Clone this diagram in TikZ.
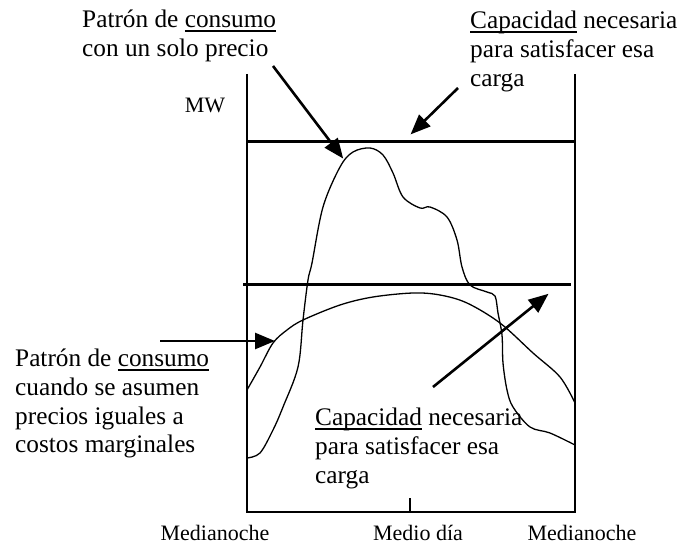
\documentclass[tikz,border=0pt]{standalone}
\usepackage{fontspec}
\setmainfont{Liberation Serif}
\usetikzlibrary{arrows.meta}
\newcommand\ulx[1]{\setbox0\hbox{#1}\rlap{\rule[-4pt]{\wd0}{1.5pt}}\box0\relax}
\newcommand\blk[1]{\begin{tabular}[t]{@{}l@{}}#1\end{tabular}}
\tikzset{
  big/.style={font=\fontsize{25.3}{28.6}\selectfont, inner sep=0pt, anchor=base west},
  small/.style={font=\fontsize{22}{26}\selectfont, inner sep=0pt, anchor=base},
  frame/.style={line width=1.6pt},
  level/.style={line width=3pt},
  curve/.style={line width=1.3pt, smooth, tension=0.55},
  pointer/.style={line width=2.6pt, -{Triangle[length=20pt,width=16pt]}, shorten >=-2pt}
}
\begin{document}
\begin{tikzpicture}[x=1pt,y=-1pt]
\useasboundingbox (0,0) rectangle (681,545);
% frame
\coordinate (tl) at (247,74);
\coordinate (bl) at (247,512);
\coordinate (br) at (575,512);
\coordinate (tr) at (575,74);
\draw[frame] (tl) -- (bl) -- (br) -- (tr);
\coordinate (tickb) at (410,512);
\coordinate (tickt) at (410,498);
\draw[frame] (tickb) -- (tickt);
% capacity levels
\coordinate (h1a) at (247,142);
\coordinate (h1b) at (575,142);
\coordinate (h2a) at (243,285);
\coordinate (h2b) at (571,285);
\draw[level] (h1a) -- (h1b);
\draw[level] (h2a) -- (h2b);
% single price consumption
\draw[curve] plot coordinates {(247,458) (260,453) (273,430) (283,407) (298,367) (303,320) (308,280) (312,263) (323,207) (340,167) (353,152) (370,148) (383,155) (393,173) (403,197) (420,208) (430,207) (447,217) (457,240) (462,267) (470,285) (487,292) (495,296) (498,313) (502,335) (503,363) (507,390) (513,407) (530,427) (550,433) (575,445)};
% marginal cost consumption
\draw[curve] plot coordinates {(247,390) (260,367) (273,343) (287,330) (303,320) (340,305) (373,297) (413,293) (440,295) (467,303) (500,323) (533,353) (560,377) (575,403)};
% texts
\node[big] (t1) at (82,28) {\blk{Patrón de \ulx{consumo}\\con un solo precio}};
\node[big] (t2) at (470,29) {\blk{\ulx{Capacidad} necesaria\\para satisfacer esa\\carga}};
\node[big] (t3) at (15,367) {\blk{Patrón de \ulx{consumo}\\cuando se asumen\\precios iguales a\\costos marginales}};
\node[big] (t4) at (315,426) {\blk{\ulx{Capacidad} necesaria\\para satisfacer esa\\carga}};
\node[small] (mw) at (205,113) {MW};
\node[small] (m1) at (215,540) {Medianoche};
\node[small] (m2) at (418,540) {Medio día};
\node[small] (m3) at (582,540) {Medianoche};
% arrows
\coordinate (a1s) at (273,66);
\coordinate (a1e) at (342,157);
\coordinate (a2s) at (458,88);
\coordinate (a2e) at (412,133);
\coordinate (a3s) at (160,341);
\coordinate (a3e) at (273,341);
\coordinate (a4s) at (433,387);
\coordinate (a4e) at (547,295);
\draw[pointer] (a1s) -- (a1e);
\draw[pointer] (a2s) -- (a2e);
\draw[pointer] (a3s) -- (a3e);
\draw[pointer] (a4s) -- (a4e);
\end{tikzpicture}
\end{document}
